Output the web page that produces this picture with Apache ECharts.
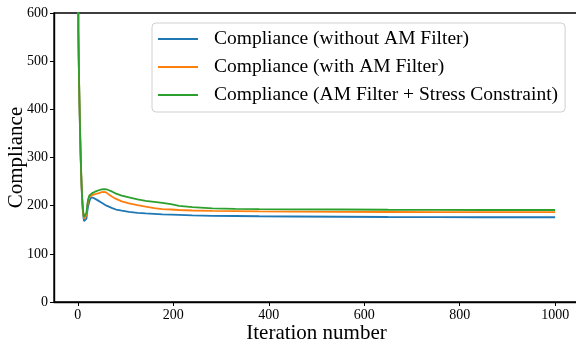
<!DOCTYPE html>
<html>
<head>
<meta charset="utf-8">
<script src="https://cdn.jsdelivr.net/npm/echarts@6/dist/echarts.min.js"></script>
<style>html,body{margin:0;padding:0;background:#fff}#c{width:576px;height:344px}</style>
</head>
<body>
<div id="c"></div>
<script>
const iterations = [0,1,2,3,4,5,6,7,8,9,10,11,12,13,14,15,16,17,18,19,20,21,22,23,24,25,26,28,30,33,36,40,44,50,55,60,65,72,80,92,107,125,142,160,177,195,212,240,282,330,380,450,550,650,750,850,1000];
const withoutAM = [1200,560,490,430,380,335,295,262,234,212,195,182,174,168,165,164,164.5,167,173,182,190,196,200,205,208,212,215,217,218,216,213,212,210,206,203,200,198,195,192,189.5,187,185,184,183,182,181.5,181,180,179,178.5,178,177.5,177,176.5,176.2,176,176];
const withAM = [1200,562,493,433,383,338,298,265,237,215,198,186,178,173,171,170,170,173,180,190,200,206,212,216,218,220,221,222,222,223,224,224.5,226,228,228.5,227,223,218.5,214,209,205,201,198,195,193,192,191,190,189,188.5,188,187.5,187,186.8,186.7,186.7,186.7];
const withAMStress = [1200,564,496,436,386,341,301,268,240,218,202,190,182,177,175,174,174,177,185,195,204,210,215,219,221,223,224,225,226,228,229,230,232,234,234.5,234,232,229,225,221,217,213,210,208,206,203,199.5,197,194.5,193.5,193,192.5,192,191.5,191.3,191,191];
const seriesNames = ['Compliance (without AM Filter)','Compliance (with AM Filter)','Compliance (AM Filter + Stress Constraint)'];
const xTicks = [0,200,400,600,800,1000];
const yTicks = [0,100,200,300,400,500,600];
const colors = ['#1f77b4','#ff7f0e','#2ca02c'];

const serif = 'Liberation Serif, Times New Roman, serif';
const chart = echarts.init(document.getElementById('c'), null, {renderer:'canvas'});
const mk = (vals) => iterations.map((x,i)=>[x, vals[i]]);
const allVals = [withoutAM, withAM, withAMStress];
chart.setOption({
  animation:false,
  backgroundColor:'#fff',
  grid:{left:54, top:13, right:-3, bottom:42, show:true, borderColor:'#000', borderWidth:1.3, outerBoundsMode:'none'},
  xAxis:{
    type:'value', min:-50, max:1050,
    name:'Iteration number', nameLocation:'middle', nameGap:21, nameMoveOverlap:false,
    nameTextStyle:{fontFamily:serif, fontSize:21, color:'#000'},
    axisLine:{show:true, onZero:false, lineStyle:{color:'#000', width:1.4}},
    axisTick:{show:true, length:4, inside:false, customValues:xTicks, lineStyle:{color:'#000', width:1}},
    axisLabel:{customValues:xTicks, fontFamily:serif, fontSize:14, color:'#000', margin:6, formatter:(v)=>String(v)},
    splitLine:{show:false}
  },
  yAxis:{
    type:'value', min:0, max:600, interval:100, position:'left',
    name:'Compliance', nameLocation:'middle', nameGap:27, nameMoveOverlap:false,
    nameTextStyle:{fontFamily:serif, fontSize:21, color:'#000'},
    axisLine:{show:true, onZero:false, lineStyle:{color:'#000', width:1.4}},
    axisTick:{show:true, length:4, inside:false, lineStyle:{color:'#000', width:1}},
    axisLabel:{fontFamily:serif, fontSize:14, color:'#000', margin:6, formatter:(v)=>String(v)},
    splitLine:{show:false}
  },
  legend:{
    orient:'vertical', left:152, top:23,
    itemWidth:40, itemHeight:14, itemGap:8,
    padding:[6,7,7,6],
    icon:'path://M0,0H40V1.8H0Z', symbolKeepAspect:true,
    backgroundColor:'rgba(255,255,255,0.8)', borderColor:'#d0d0d0', borderWidth:1, borderRadius:4,
    textStyle:{fontFamily:serif, fontSize:19.5, lineHeight:20, color:'#000', padding:[0,0,0,11]},
    data:seriesNames
  },
  series: seriesNames.map((n,i)=>({
    name:n, type:'line', data:mk(allVals[i]), symbol:'none', showSymbol:false,
    color:colors[i], lineStyle:{width:1.8, color:colors[i]}, clip:true, z:2+i
  }))
});
</script>
</body>
</html>
